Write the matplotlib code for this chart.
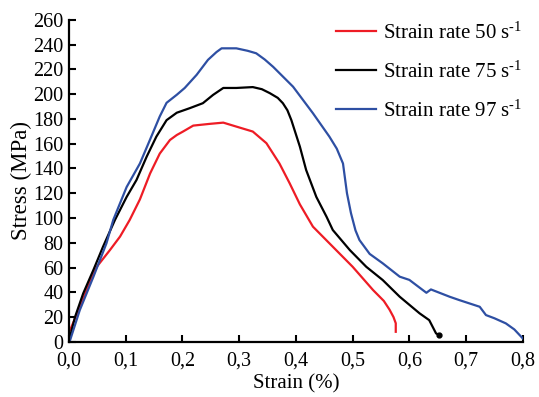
import matplotlib
matplotlib.use('Agg')
import matplotlib.pyplot as plt
from matplotlib.ticker import FuncFormatter

plt.rcParams['font.family'] = ['Liberation Serif', 'DejaVu Serif']
plt.rcParams['mathtext.fontset'] = 'custom'
plt.rcParams['mathtext.rm'] = 'Liberation Serif'
plt.rcParams['mathtext.it'] = 'Liberation Serif:italic'

# strain (%) / stress (MPa)
red_x = [0.0, 0.002, 0.019, 0.031, 0.049, 0.072, 0.090, 0.107, 0.125, 0.143, 0.160,
         0.178, 0.190, 0.201, 0.219, 0.248, 0.272, 0.295, 0.324, 0.348, 0.371, 0.389, 0.407,
         0.430, 0.465, 0.500, 0.536, 0.555, 0.565, 0.572, 0.576, 0.576]
red_y = [9, 9.5, 28, 41.8, 60.6, 74, 85, 98.4, 115, 136, 152,
         163, 167, 169.8, 174.6, 176, 177, 173.8, 169.8, 160.4, 144, 128, 111,
         93, 76.8, 60.6, 41.8, 33, 26, 20, 15, 8.1]

black_x = [0.0, 0.0106, 0.025, 0.043, 0.060, 0.081, 0.1016, 0.119, 0.137, 0.154, 0.172,
           0.190, 0.213, 0.236, 0.254, 0.272, 0.295, 0.324, 0.340, 0.354, 0.368, 0.377, 0.385,
           0.392, 0.407, 0.418, 0.436, 0.454, 0.465, 0.495, 0.524, 0.553, 0.583, 0.618, 0.635,
           0.647, 0.653]
black_y = [1, 20, 39, 58, 76.8, 98.4, 117, 130.7, 149.6, 165.7, 179,
           185, 188.7, 192.7, 199.4, 205, 205, 205.7, 204, 200.8, 197, 192.7, 187,
           179, 157.6, 138.8, 117, 101, 90.3, 74.1, 60.6, 49.9, 36.4, 23, 17.5,
           6.8, 5.4]

blue_x = [0.0, 0.002, 0.019, 0.043, 0.066, 0.078, 0.1016, 0.125, 0.1426, 0.160, 0.172,
          0.190, 0.204, 0.225, 0.245, 0.260, 0.269, 0.295, 0.315, 0.330, 0.345, 0.360, 0.395,
          0.430, 0.459, 0.472, 0.483, 0.490, 0.497, 0.505, 0.512, 0.530, 0.553, 0.583, 0.600,
          0.630, 0.638, 0.671, 0.688, 0.724, 0.735, 0.750, 0.770, 0.785, 0.800]
blue_y = [0, 1.4, 25.6, 52.5, 79.5, 98.4, 125, 144, 163, 182, 193,
          199.5, 205, 215.6, 227.7, 234, 237, 237, 235, 233, 228, 222, 206,
          184.6, 165.7, 156, 144, 120, 104, 90, 82.2, 71, 63.4, 52.6, 50,
          39.6, 42.3, 36.4, 33.7, 28.3, 21.6, 19, 14.9, 10, 2.7]

labels = [r'Strain rate 50 s$^{\text{-}1}$', r'Strain rate 75 s$^{\text{-}1}$',
          r'Strain rate 97 s$^{\text{-}1}$']
colors = ['#ee1c25', 'black', '#2e4fa3']

fig = plt.figure(figsize=(5.39, 3.97), dpi=100)
ax = fig.add_axes([0.128, 0.139, 0.842, 0.811])

ax.plot(red_x, red_y, color=colors[0], lw=1.6, label=labels[0])
ax.plot(black_x, black_y, color=colors[1], lw=1.6, label=labels[1])
ax.plot(blue_x, blue_y, color=colors[2], lw=1.6, label=labels[2])
ax.plot(black_x[-1], black_y[-1], 'o', color='black', ms=3.5)

ax.set_xlim(0, 0.8)
ax.set_ylim(0, 260)
ax.set_xticks([i / 10 for i in range(9)])
ax.set_yticks(range(0, 261, 20))
ax.xaxis.set_major_formatter(FuncFormatter(lambda v, p: f'{v:.1f}'.replace('.', ',')))

for s in ['top', 'right']:
    ax.spines[s].set_visible(False)
for s in ['left', 'bottom']:
    ax.spines[s].set_linewidth(1.6)
ax.tick_params(direction='in', length=5, width=1.5, labelsize=14.5)
ax.tick_params(axis='x', pad=7)
ax.tick_params(axis='y', pad=4)

ax.set_xlabel('Strain (%)', fontsize=15, labelpad=3)
ax.set_ylabel('Stress (MPa)', fontsize=16.5, labelpad=1)

ax.legend(loc='upper right', bbox_to_anchor=(1.04, 1.05), frameon=False, fontsize=15,
          handlelength=1.9, handletextpad=0.35, labelspacing=0.85)

fig.savefig('out.png', dpi=100)
